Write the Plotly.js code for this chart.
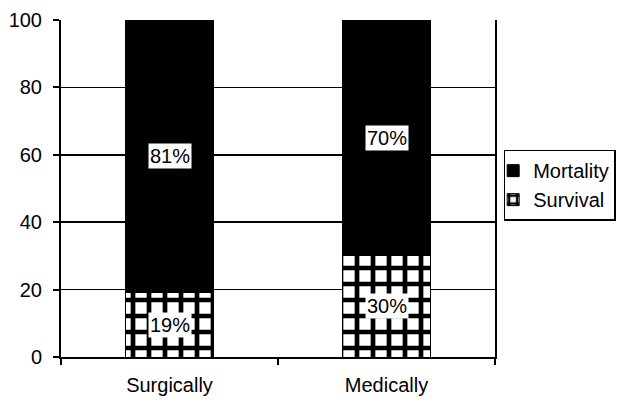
<!DOCTYPE html>
<html>
<head>
<meta charset="utf-8">
<script src="https://cdn.plot.ly/plotly-3.0.1.min.js"></script>
<style>html,body{margin:0;padding:0;background:#fff;}#chart{width:618px;height:402px;}</style>
</head>
<body>
<div id="chart"></div>
<script>
const categories = ["Surgically", "Medically"];
const survival = [19, 30];
const mortality = [81, 70];
const survivalLabels = ["19%", "30%"];
const mortalityLabels = ["81%", "70%"];
const yTicks = [0, 20, 40, 60, 80, 100];

const font = "Liberation Sans, Arial, sans-serif";

const traces = [
  {
    type: "bar", name: "Survival", x: categories, y: survival, width: 0.405,
    legendgroup: "s", legendrank: 2,
    marker: {
      color: "#ffffff",
      line: {color: "#000", width: 1},
      pattern: {shape: "+", fgcolor: "#000", bgcolor: "#fff", size: 16, solidity: 0.5}
    },
    hoverinfo: "none"
  },
  {
    type: "bar", name: "Mortality", x: categories, y: mortality, width: 0.405,
    legendgroup: "m", legendrank: 1,
    marker: {color: "#000", line: {color: "#000", width: 1}},
    hoverinfo: "none"
  }
];

const annotations = [];
categories.forEach((c, i) => {
  annotations.push({x: c, y: survival[i] / 2, text: survivalLabels[i], showarrow: false,
    bgcolor: "#fff", font: {family: font, size: 20, color: "#000"}, borderpad: 1});
  annotations.push({x: c, y: survival[i] + mortality[i] / 2, text: mortalityLabels[i], showarrow: false,
    bgcolor: "#fff", font: {family: font, size: 20, color: "#000"}, borderpad: 1});
});

const layout = {
  width: 618, height: 402,
  margin: {l: 61, r: 123, t: 20, b: 45, autoexpand: false},
  paper_bgcolor: "#fff", plot_bgcolor: "#fff",
  barmode: "stack",
  showlegend: true,
  font: {family: font, size: 20, color: "#000"},
  xaxis: {
    showline: true, linecolor: "#000", linewidth: 2, mirror: false,
    ticks: "outside", tickson: "boundaries", ticklen: 6, tickcolor: "#000", tickwidth: 2,
    ticklabelstandoff: 9,
    tickfont: {family: font, size: 20, color: "#000"}, showgrid: false
  },
  yaxis: {
    range: [0, 100], tickvals: yTicks, ticktext: yTicks.map(String),
    showline: true, linecolor: "#000", linewidth: 2, mirror: true,
    ticks: "outside", ticklen: 6, tickcolor: "#000", tickwidth: 2,
    ticklabelstandoff: 7,
    showgrid: true, gridcolor: "#000", gridwidth: 1.5, zeroline: false,
    tickfont: {family: font, size: 20, color: "#000"}
  },
  legend: {
    x: 1.02, xanchor: "left", y: 0.51, yanchor: "middle",
    bordercolor: "#000", borderwidth: 1.5, bgcolor: "#fff",
    traceorder: "normal",
    font: {family: font, size: 20, color: "#000"},
    itemwidth: 30, tracegroupgap: 2, indentation: -12
  },
  annotations: annotations
};

Plotly.newPlot("chart", traces, layout, {staticPlot: true, displayModeBar: false});
</script>
</body>
</html>
